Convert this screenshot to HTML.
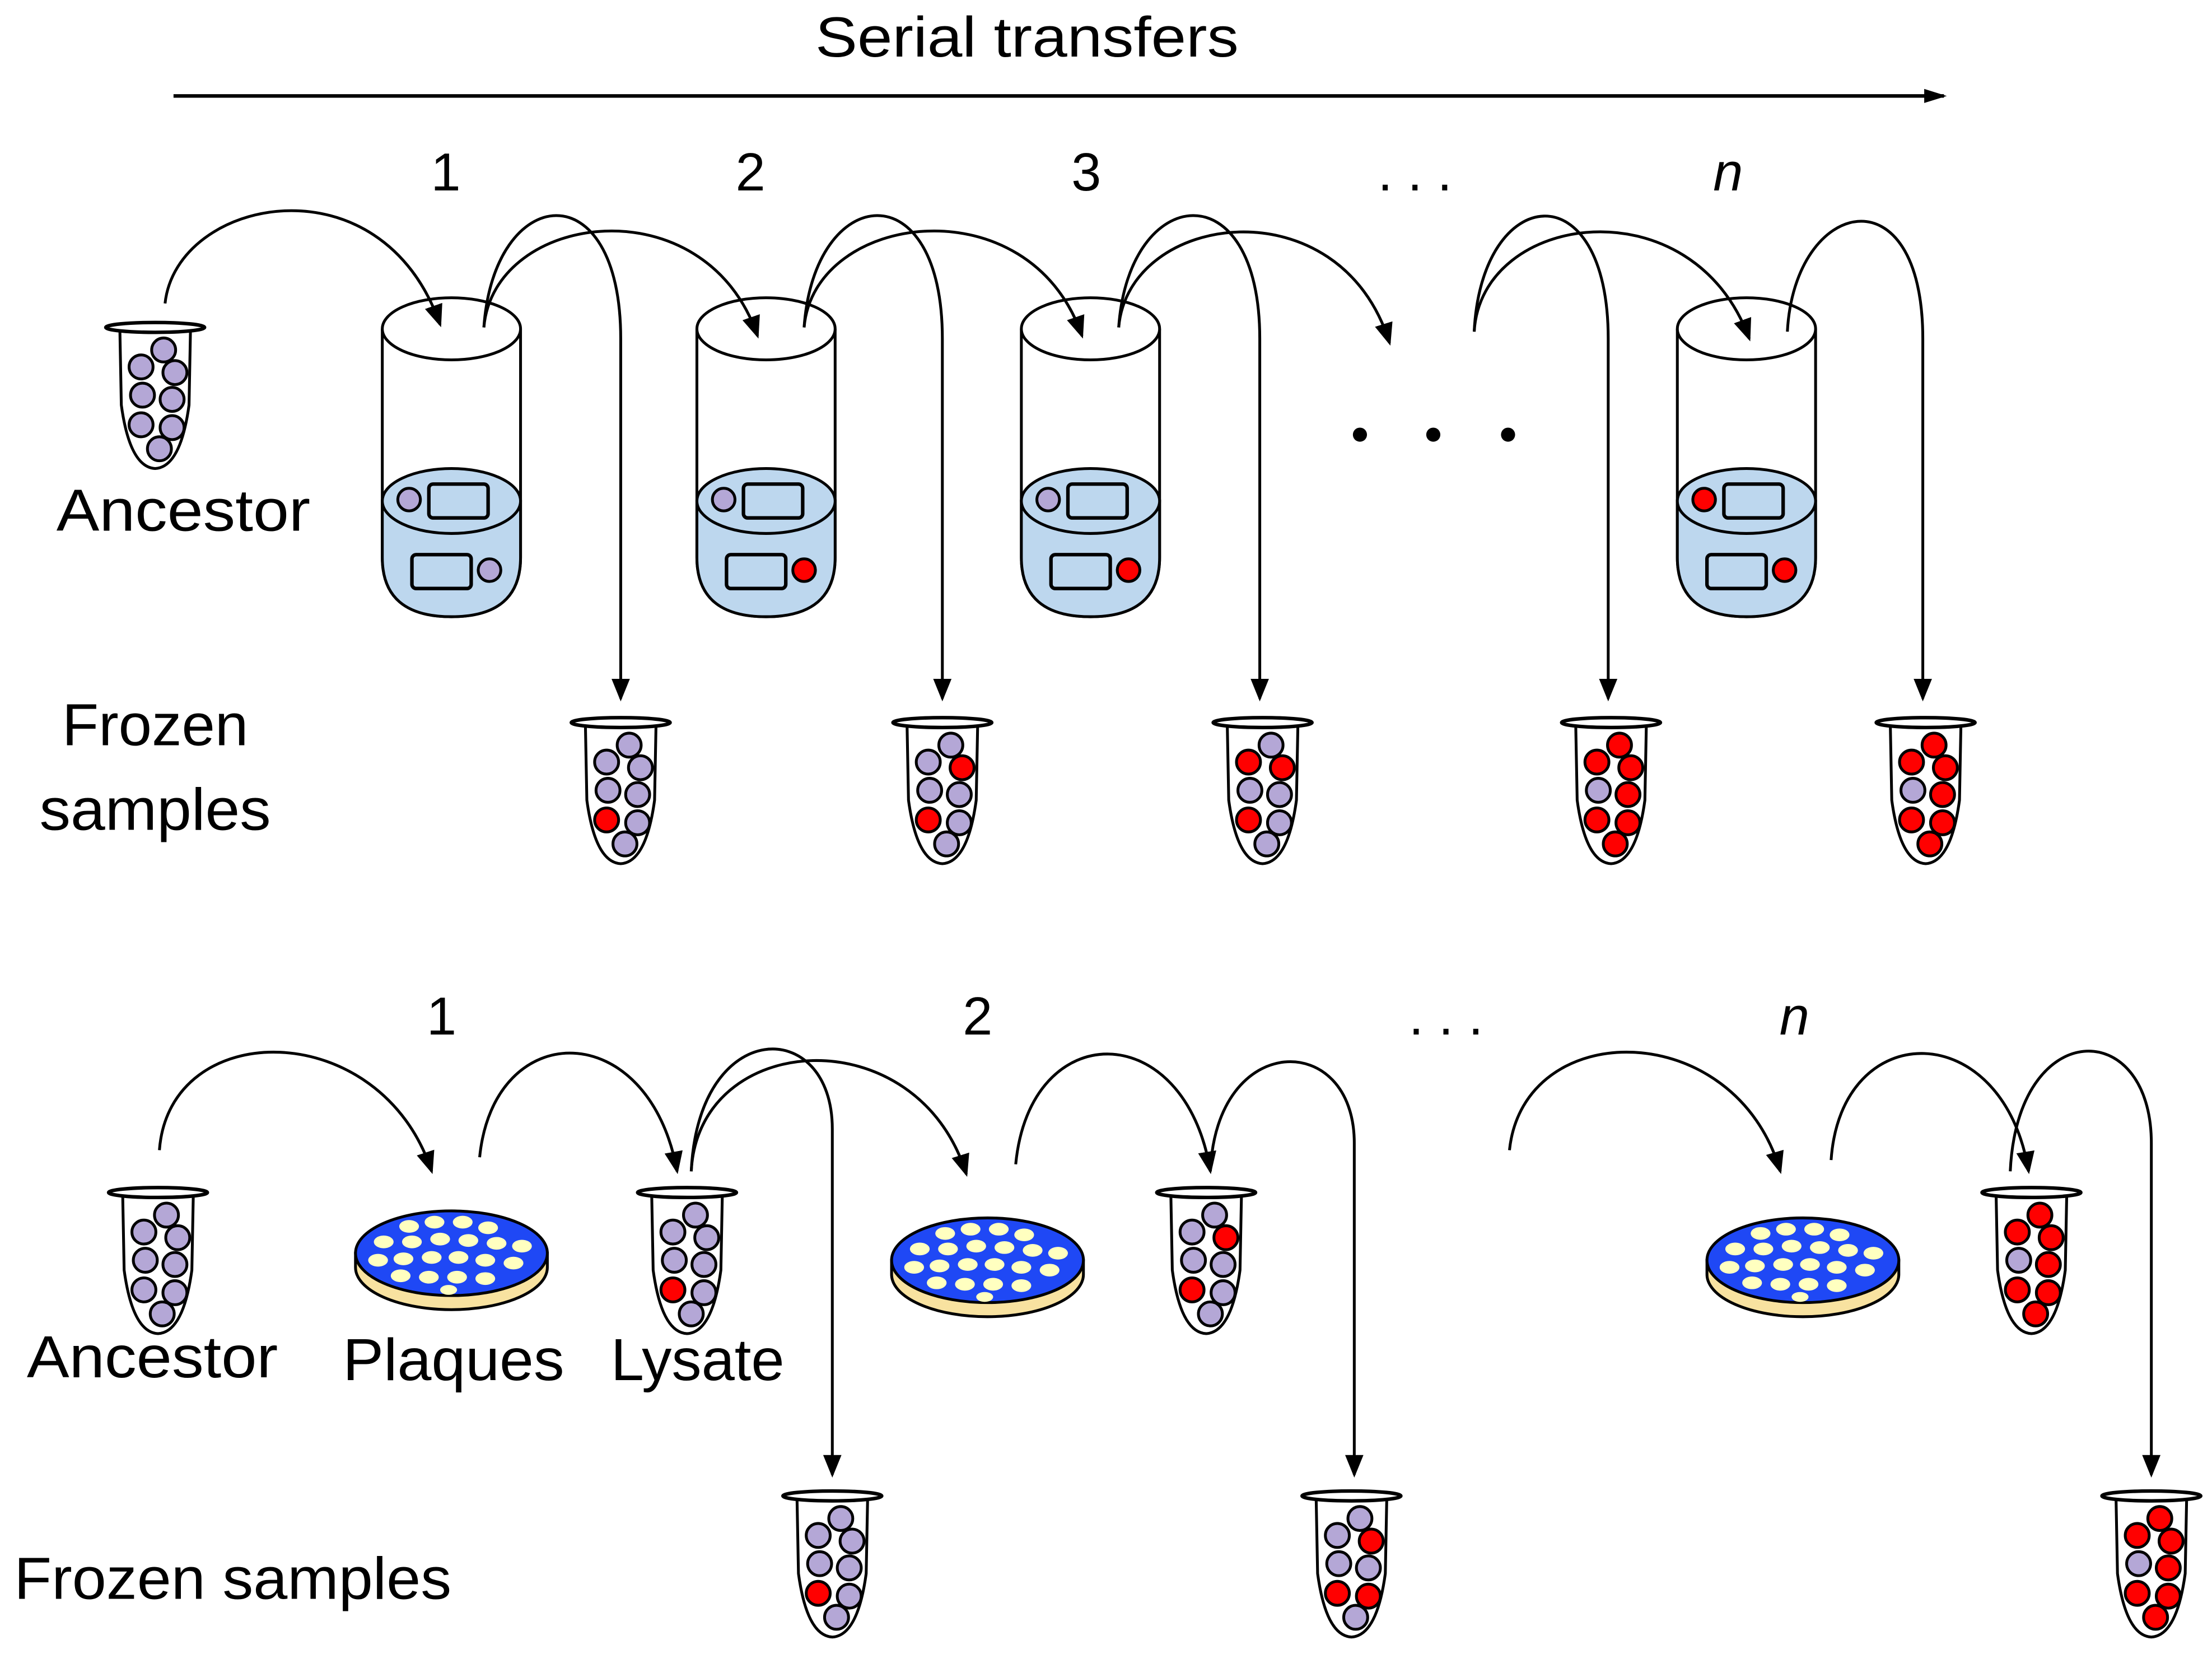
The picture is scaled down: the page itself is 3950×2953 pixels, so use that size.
<!DOCTYPE html>
<html><head><style>html,body{margin:0;padding:0;background:#fff}svg{display:block}</style></head>
<body>
<svg xmlns="http://www.w3.org/2000/svg" xmlns:xlink="http://www.w3.org/1999/xlink" width="3950" height="2953" viewBox="0 0 1568 1172" preserveAspectRatio="none" font-family="'Liberation Sans', sans-serif">
<defs>
<marker id="ah" markerWidth="16" markerHeight="16" refX="14" refY="8" orient="auto" markerUnits="userSpaceOnUse" viewBox="0 0 16 16">
<path d="M0,1.5 L16,8 L0,14.5 z" fill="#000"/></marker>
<marker id="ah2" markerWidth="16" markerHeight="16" refX="14" refY="8" orient="auto" markerUnits="userSpaceOnUse" viewBox="0 0 16 16">
<path d="M0,3 L16,8 L0,13 z" fill="#000"/></marker>
<g id="tube">
<path d="M-25,3 L-24,55 Q-18,99 0,100 Q18,99 24,55 L25,3" fill="#fff" stroke="#000" stroke-width="2"/>
<ellipse cx="0" cy="0" rx="35" ry="3.5" fill="#fff" stroke="#000" stroke-width="2.5"/>
</g>
<g id="cyl">
<path d="M-49,233 L-49,395 Q-49,437 0,437 Q49,437 49,395 L49,233" fill="#fff" stroke="#000" stroke-width="2"/>
<path d="M-49,355 L-49,395 Q-49,437 0,437 Q49,437 49,395 L49,355 Z" fill="#bdd7ee" stroke="#000" stroke-width="2"/>
<ellipse cx="0" cy="355" rx="49" ry="23" fill="#bdd7ee" stroke="#000" stroke-width="2"/>
<ellipse cx="0" cy="233" rx="49" ry="22" fill="#fff" stroke="#000" stroke-width="2"/>
<rect x="-16" y="343" width="42" height="24" rx="3" fill="#bdd7ee" stroke="#000" stroke-width="2.5"/>
<rect x="-28" y="393" width="42" height="24" rx="3" fill="#bdd7ee" stroke="#000" stroke-width="2.5"/>
</g>
<g id="plate">
<path d="M-68,0 L-68,10 A68,30 0 0 0 68,10 L68,0 Z" fill="#f8e2a0" stroke="#000" stroke-width="2"/>
<ellipse cx="0" cy="0" rx="68" ry="30" fill="#1f48f5" stroke="#000" stroke-width="2"/>
<g fill="#ffffc0">
<ellipse cx="-30" cy="-19" rx="7" ry="4.5"/><ellipse cx="-12" cy="-22" rx="7" ry="4.5"/><ellipse cx="8" cy="-22" rx="7" ry="4.5"/><ellipse cx="26" cy="-18" rx="7" ry="4.5"/>
<ellipse cx="-48" cy="-8" rx="7" ry="4.5"/><ellipse cx="-28" cy="-8" rx="7" ry="4.5"/><ellipse cx="-8" cy="-10" rx="7" ry="4.5"/><ellipse cx="12" cy="-9" rx="7" ry="4.5"/><ellipse cx="32" cy="-7" rx="7" ry="4.5"/><ellipse cx="50" cy="-5" rx="7" ry="4.5"/>
<ellipse cx="-52" cy="5" rx="7" ry="4.5"/><ellipse cx="-34" cy="4" rx="7" ry="4.5"/><ellipse cx="-14" cy="3" rx="7" ry="4.5"/><ellipse cx="5" cy="3" rx="7" ry="4.5"/><ellipse cx="24" cy="5" rx="7" ry="4.5"/><ellipse cx="44" cy="7" rx="7" ry="4.5"/>
<ellipse cx="-36" cy="16" rx="7" ry="4.5"/><ellipse cx="-16" cy="17" rx="7" ry="4.5"/><ellipse cx="4" cy="17" rx="7" ry="4.5"/><ellipse cx="24" cy="18" rx="7" ry="4.5"/>
<ellipse cx="-2" cy="26" rx="6" ry="3.5"/>
</g>
</g>
</defs>

<text x="578" y="40" font-size="40" textLength="300" lengthAdjust="spacingAndGlyphs">Serial transfers</text>
<line x1="123" y1="68" x2="1378" y2="68" stroke="#000" stroke-width="2.5" marker-end="url(#ah2)"/>
<g font-size="38" text-anchor="middle">
<text x="316" y="135">1</text><text x="532" y="135">2</text><text x="770" y="135">3</text>
<text x="1003" y="135">. . .</text><text x="1225" y="135" font-style="italic">n</text>
<text x="313" y="733">1</text><text x="693" y="733">2</text>
<text x="1025" y="733">. . .</text><text x="1272" y="733" font-style="italic">n</text>
</g>
<g font-size="42">
<text x="40" y="376" textLength="180" lengthAdjust="spacingAndGlyphs">Ancestor</text>
<text x="44" y="528" textLength="132" lengthAdjust="spacingAndGlyphs">Frozen</text>
<text x="28" y="588" textLength="164" lengthAdjust="spacingAndGlyphs">samples</text>
<text x="19" y="976" textLength="178" lengthAdjust="spacingAndGlyphs">Ancestor</text>
<text x="243" y="978" textLength="157" lengthAdjust="spacingAndGlyphs">Plaques</text>
<text x="433" y="978" textLength="123" lengthAdjust="spacingAndGlyphs">Lysate</text>
<text x="10" y="1133" textLength="310" lengthAdjust="spacingAndGlyphs">Frozen samples</text>
</g>

<g transform="translate(320,0)"><use xlink:href="#cyl"/><circle cx="-30" cy="354" r="8" fill="#b4a7d6" stroke="#000" stroke-width="2"/><circle cx="27" cy="404" r="8" fill="#b4a7d6" stroke="#000" stroke-width="2"/></g>
<g transform="translate(543,0)"><use xlink:href="#cyl"/><circle cx="-30" cy="354" r="8" fill="#b4a7d6" stroke="#000" stroke-width="2"/><circle cx="27" cy="404" r="8" fill="#f00" stroke="#000" stroke-width="2"/></g>
<g transform="translate(773,0)"><use xlink:href="#cyl"/><circle cx="-30" cy="354" r="8" fill="#b4a7d6" stroke="#000" stroke-width="2"/><circle cx="27" cy="404" r="8" fill="#f00" stroke="#000" stroke-width="2"/></g>
<g transform="translate(1238,0)"><use xlink:href="#cyl"/><circle cx="-30" cy="354" r="8" fill="#f00" stroke="#000" stroke-width="2"/><circle cx="27" cy="404" r="8" fill="#f00" stroke="#000" stroke-width="2"/></g>

<g fill="#000"><circle cx="964" cy="308" r="5"/><circle cx="1016" cy="308" r="5"/><circle cx="1069" cy="308" r="5"/></g>

<use xlink:href="#plate" transform="translate(320,888)"/>
<use xlink:href="#plate" transform="translate(700,893)"/>
<use xlink:href="#plate" transform="translate(1278,893)"/>

<g fill="none" stroke="#000" stroke-width="2" marker-end="url(#ah)">
<path d="M117,215 C125,140 270,110 312,230"/>
<path d="M343,232 C350,150 500,130 537,238"/>
<path d="M343,232 C350,130 440,120 440,240 L440,495"/>
<path d="M570,232 C577,150 730,130 767,238"/>
<path d="M570,232 C577,130 668,120 668,240 L668,495"/>
<path d="M793,232 C800,150 950,130 985,243"/>
<path d="M793,232 C800,130 893,120 893,240 L893,495"/>
<path d="M1045,235 C1050,150 1200,130 1240,240"/>
<path d="M1045,235 C1050,130 1140,120 1140,240 L1140,495"/>
<path d="M1267,235 C1272,140 1363,120 1363,240 L1363,495"/>
<path d="M113,815 C120,720 270,720 306,830"/>
<path d="M340,820 C350,720 460,720 480,830"/>
<path d="M490,830 C495,730 650,720 685,832"/>
<path d="M490,830 C495,720 590,720 590,800 L590,1045"/>
<path d="M720,825 C730,720 840,720 858,830"/>
<path d="M858,830 C862,730 960,730 960,810 L960,1045"/>
<path d="M1070,815 C1080,720 1230,720 1262,830"/>
<path d="M1298,822 C1305,720 1420,720 1438,830"/>
<path d="M1425,830 C1430,720 1525,720 1525,810 L1525,1045"/>
</g>

<g stroke="#000" stroke-width="2">
<g transform="translate(110,232)"><use xlink:href="#tube"/>
<circle cx="6" cy="16" r="8.5" fill="#b4a7d6"/><circle cx="-10" cy="28" r="8.5" fill="#b4a7d6"/><circle cx="14" cy="32" r="8.5" fill="#b4a7d6"/><circle cx="-9" cy="48" r="8.5" fill="#b4a7d6"/><circle cx="12" cy="51" r="8.5" fill="#b4a7d6"/><circle cx="-10" cy="69" r="8.5" fill="#b4a7d6"/><circle cx="12" cy="71" r="8.5" fill="#b4a7d6"/><circle cx="3" cy="86" r="8.5" fill="#b4a7d6"/></g>
<g transform="translate(440,512)"><use xlink:href="#tube"/>
<circle cx="6" cy="16" r="8.5" fill="#b4a7d6"/><circle cx="-10" cy="28" r="8.5" fill="#b4a7d6"/><circle cx="14" cy="32" r="8.5" fill="#b4a7d6"/><circle cx="-9" cy="48" r="8.5" fill="#b4a7d6"/><circle cx="12" cy="51" r="8.5" fill="#b4a7d6"/><circle cx="-10" cy="69" r="8.5" fill="#f00"/><circle cx="12" cy="71" r="8.5" fill="#b4a7d6"/><circle cx="3" cy="86" r="8.5" fill="#b4a7d6"/></g>
<g transform="translate(668,512)"><use xlink:href="#tube"/>
<circle cx="6" cy="16" r="8.5" fill="#b4a7d6"/><circle cx="-10" cy="28" r="8.5" fill="#b4a7d6"/><circle cx="14" cy="32" r="8.5" fill="#f00"/><circle cx="-9" cy="48" r="8.5" fill="#b4a7d6"/><circle cx="12" cy="51" r="8.5" fill="#b4a7d6"/><circle cx="-10" cy="69" r="8.5" fill="#f00"/><circle cx="12" cy="71" r="8.5" fill="#b4a7d6"/><circle cx="3" cy="86" r="8.5" fill="#b4a7d6"/></g>
<g transform="translate(895,512)"><use xlink:href="#tube"/>
<circle cx="6" cy="16" r="8.5" fill="#b4a7d6"/><circle cx="-10" cy="28" r="8.5" fill="#f00"/><circle cx="14" cy="32" r="8.5" fill="#f00"/><circle cx="-9" cy="48" r="8.5" fill="#b4a7d6"/><circle cx="12" cy="51" r="8.5" fill="#b4a7d6"/><circle cx="-10" cy="69" r="8.5" fill="#f00"/><circle cx="12" cy="71" r="8.5" fill="#b4a7d6"/><circle cx="3" cy="86" r="8.5" fill="#b4a7d6"/></g>
<g transform="translate(1142,512)"><use xlink:href="#tube"/>
<circle cx="6" cy="16" r="8.5" fill="#f00"/><circle cx="-10" cy="28" r="8.5" fill="#f00"/><circle cx="14" cy="32" r="8.5" fill="#f00"/><circle cx="-9" cy="48" r="8.5" fill="#b4a7d6"/><circle cx="12" cy="51" r="8.5" fill="#f00"/><circle cx="-10" cy="69" r="8.5" fill="#f00"/><circle cx="12" cy="71" r="8.5" fill="#f00"/><circle cx="3" cy="86" r="8.5" fill="#f00"/></g>
<g transform="translate(1365,512)"><use xlink:href="#tube"/>
<circle cx="6" cy="16" r="8.5" fill="#f00"/><circle cx="-10" cy="28" r="8.5" fill="#f00"/><circle cx="14" cy="32" r="8.5" fill="#f00"/><circle cx="-9" cy="48" r="8.5" fill="#b4a7d6"/><circle cx="12" cy="51" r="8.5" fill="#f00"/><circle cx="-10" cy="69" r="8.5" fill="#f00"/><circle cx="12" cy="71" r="8.5" fill="#f00"/><circle cx="3" cy="86" r="8.5" fill="#f00"/></g>
<g transform="translate(112,845)"><use xlink:href="#tube"/>
<circle cx="6" cy="16" r="8.5" fill="#b4a7d6"/><circle cx="-10" cy="28" r="8.5" fill="#b4a7d6"/><circle cx="14" cy="32" r="8.5" fill="#b4a7d6"/><circle cx="-9" cy="48" r="8.5" fill="#b4a7d6"/><circle cx="12" cy="51" r="8.5" fill="#b4a7d6"/><circle cx="-10" cy="69" r="8.5" fill="#b4a7d6"/><circle cx="12" cy="71" r="8.5" fill="#b4a7d6"/><circle cx="3" cy="86" r="8.5" fill="#b4a7d6"/></g>
<g transform="translate(487,845)"><use xlink:href="#tube"/>
<circle cx="6" cy="16" r="8.5" fill="#b4a7d6"/><circle cx="-10" cy="28" r="8.5" fill="#b4a7d6"/><circle cx="14" cy="32" r="8.5" fill="#b4a7d6"/><circle cx="-9" cy="48" r="8.5" fill="#b4a7d6"/><circle cx="12" cy="51" r="8.5" fill="#b4a7d6"/><circle cx="-10" cy="69" r="8.5" fill="#f00"/><circle cx="12" cy="71" r="8.5" fill="#b4a7d6"/><circle cx="3" cy="86" r="8.5" fill="#b4a7d6"/></g>
<g transform="translate(855,845)"><use xlink:href="#tube"/>
<circle cx="6" cy="16" r="8.5" fill="#b4a7d6"/><circle cx="-10" cy="28" r="8.5" fill="#b4a7d6"/><circle cx="14" cy="32" r="8.5" fill="#f00"/><circle cx="-9" cy="48" r="8.5" fill="#b4a7d6"/><circle cx="12" cy="51" r="8.5" fill="#b4a7d6"/><circle cx="-10" cy="69" r="8.5" fill="#f00"/><circle cx="12" cy="71" r="8.5" fill="#b4a7d6"/><circle cx="3" cy="86" r="8.5" fill="#b4a7d6"/></g>
<g transform="translate(1440,845)"><use xlink:href="#tube"/>
<circle cx="6" cy="16" r="8.5" fill="#f00"/><circle cx="-10" cy="28" r="8.5" fill="#f00"/><circle cx="14" cy="32" r="8.5" fill="#f00"/><circle cx="-9" cy="48" r="8.5" fill="#b4a7d6"/><circle cx="12" cy="51" r="8.5" fill="#f00"/><circle cx="-10" cy="69" r="8.5" fill="#f00"/><circle cx="12" cy="71" r="8.5" fill="#f00"/><circle cx="3" cy="86" r="8.5" fill="#f00"/></g>
<g transform="translate(590,1060)"><use xlink:href="#tube"/>
<circle cx="6" cy="16" r="8.5" fill="#b4a7d6"/><circle cx="-10" cy="28" r="8.5" fill="#b4a7d6"/><circle cx="14" cy="32" r="8.5" fill="#b4a7d6"/><circle cx="-9" cy="48" r="8.5" fill="#b4a7d6"/><circle cx="12" cy="51" r="8.5" fill="#b4a7d6"/><circle cx="-10" cy="69" r="8.5" fill="#f00"/><circle cx="12" cy="71" r="8.5" fill="#b4a7d6"/><circle cx="3" cy="86" r="8.5" fill="#b4a7d6"/></g>
<g transform="translate(958,1060)"><use xlink:href="#tube"/>
<circle cx="6" cy="16" r="8.5" fill="#b4a7d6"/><circle cx="-10" cy="28" r="8.5" fill="#b4a7d6"/><circle cx="14" cy="32" r="8.5" fill="#f00"/><circle cx="-9" cy="48" r="8.5" fill="#b4a7d6"/><circle cx="12" cy="51" r="8.5" fill="#b4a7d6"/><circle cx="-10" cy="69" r="8.5" fill="#f00"/><circle cx="12" cy="71" r="8.5" fill="#f00"/><circle cx="3" cy="86" r="8.5" fill="#b4a7d6"/></g>
<g transform="translate(1525,1060)"><use xlink:href="#tube"/>
<circle cx="6" cy="16" r="8.5" fill="#f00"/><circle cx="-10" cy="28" r="8.5" fill="#f00"/><circle cx="14" cy="32" r="8.5" fill="#f00"/><circle cx="-9" cy="48" r="8.5" fill="#b4a7d6"/><circle cx="12" cy="51" r="8.5" fill="#f00"/><circle cx="-10" cy="69" r="8.5" fill="#f00"/><circle cx="12" cy="71" r="8.5" fill="#f00"/><circle cx="3" cy="86" r="8.5" fill="#f00"/></g>
</g>
</svg>
</body></html>
